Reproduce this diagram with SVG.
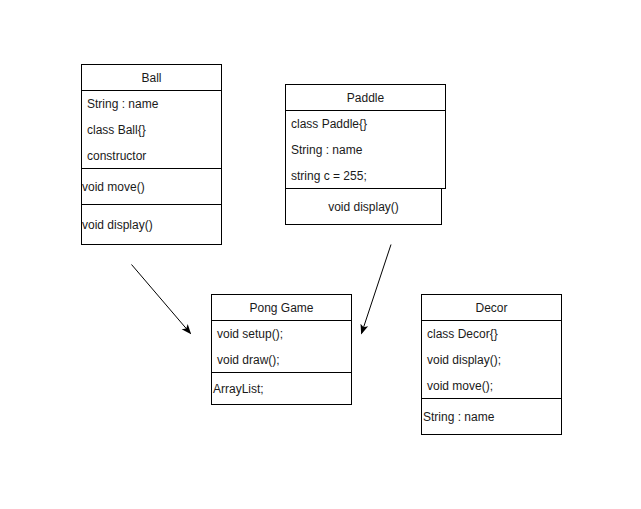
<svg xmlns="http://www.w3.org/2000/svg" width="641" height="509" viewBox="0 0 641 509">
<style>
rect,line.s{fill:#fff;stroke:#000;stroke-width:1}
line.s{fill:none}
text{font-family:"Liberation Sans",Arial,sans-serif;font-size:12px;fill:#1a1a1a}
.c{text-anchor:middle}
.e{fill:none;stroke:#000;stroke-width:1}
</style>
<defs>
<marker id="ah" markerWidth="10" markerHeight="10" refX="9" refY="4" orient="auto" markerUnits="userSpaceOnUse" viewBox="0 0 10 8">
<path d="M0,0 L10,4 L0,8 L2.5,4 Z" fill="#000"/>
</marker>
</defs>
<rect width="641" height="509" fill="#fff" style="stroke:none"/>
<g id="connectors">
<line class="e" x1="131.5" y1="264.5" x2="190.5" y2="333.5" marker-end="url(#ah)"/>
<line class="e" x1="391" y1="244.5" x2="361.5" y2="333.5" marker-end="url(#ah)"/>
</g>
<g id="ball">
<rect x="81.5" y="64.5" width="140" height="180"/>
<line class="s" x1="81.5" y1="90.5" x2="221.5" y2="90.5"/>
<line class="s" x1="81.5" y1="168.5" x2="221.5" y2="168.5"/>
<line class="s" x1="81.5" y1="204.5" x2="221.5" y2="204.5"/>
<text class="c" x="151.5" y="82">Ball</text>
<text x="87" y="108">String : name</text>
<text x="87" y="134">class Ball{}</text>
<text x="87" y="160">constructor</text>
<text x="82" y="191">void move()</text>
<text x="82" y="229">void display()</text>
</g>
<g id="paddle">
<rect x="285.5" y="188.5" width="156" height="36"/>
<rect x="285.5" y="84.5" width="160" height="104"/>
<line class="s" x1="285.5" y1="110.5" x2="445.5" y2="110.5"/>
<text class="c" x="365.5" y="102">Paddle</text>
<text x="291" y="128">class Paddle{}</text>
<text x="291" y="154">String : name</text>
<text x="291" y="180">string c = 255;</text>
<text class="c" x="363.5" y="211">void display()</text>
</g>
<g id="ponggame">
<rect x="211.5" y="294.5" width="140" height="110"/>
<line class="s" x1="211.5" y1="320.5" x2="351.5" y2="320.5"/>
<line class="s" x1="211.5" y1="372.5" x2="351.5" y2="372.5"/>
<text class="c" x="281.5" y="312">Pong Game</text>
<text x="217" y="338">void setup();</text>
<text x="217" y="364">void draw();</text>
<text x="213" y="393">ArrayList;</text>
</g>
<g id="decor">
<rect x="421.5" y="294.5" width="140" height="140"/>
<line class="s" x1="421.5" y1="320.5" x2="561.5" y2="320.5"/>
<line class="s" x1="421.5" y1="398.5" x2="561.5" y2="398.5"/>
<text class="c" x="491.5" y="312">Decor</text>
<text x="427" y="338">class Decor{}</text>
<text x="427" y="364">void display();</text>
<text x="427" y="390">void move();</text>
<text x="423" y="421">String : name</text>
</g>
</svg>
